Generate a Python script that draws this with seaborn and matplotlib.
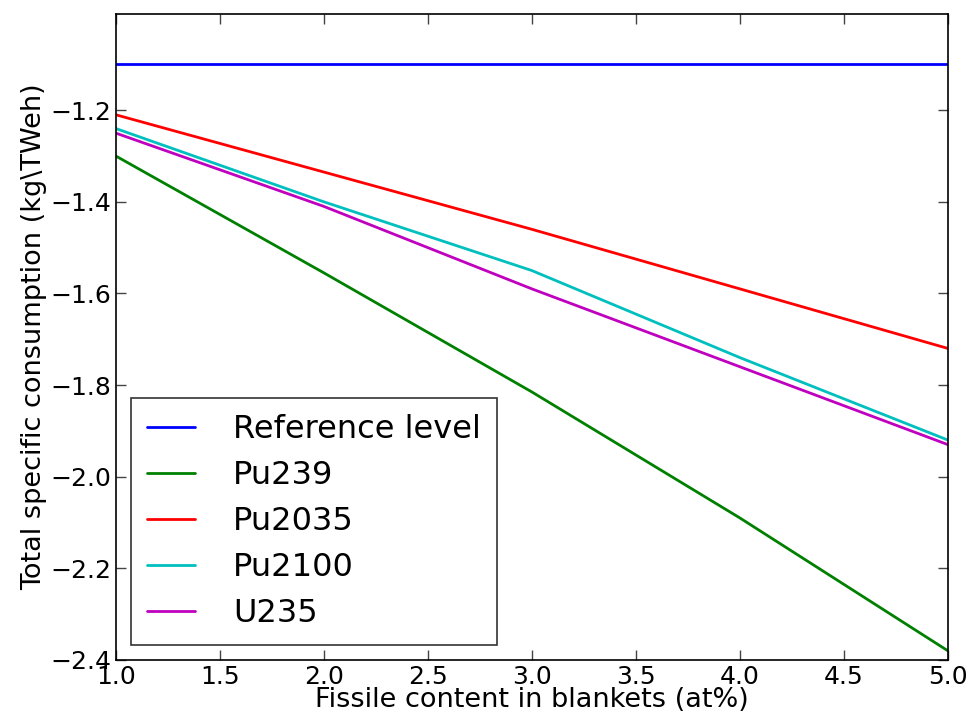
import seaborn as sns
import numpy as np
import matplotlib.pyplot as plt
import pandas as pd

# fissile content (at%) and total specific consumption per fuel
fissile = [1.0, 2.0, 3.0, 4.0, 5.0]
ref_level = [-1.10, -1.10, -1.10, -1.10, -1.10]
pu239 = [-1.30, -1.555, -1.815, -2.09, -2.38]
pu2035 = [-1.21, -1.335, -1.46, -1.59, -1.72]
pu2100 = [-1.24, -1.40, -1.55, -1.74, -1.92]
u235 = [-1.25, -1.41, -1.59, -1.76, -1.93]
names = ["Reference level", "Pu239", "Pu2035", "Pu2100", "U235"]

df = pd.concat([
    pd.DataFrame({"x": fissile, "y": vals, "fuel": name})
    for name, vals in zip(names, [ref_level, pu239, pu2035, pu2100, u235])
])

sns.set_style("white")
plt.rcParams['font.family'] = ['DejaVu Sans']
plt.rcParams['text.color'] = 'black'
plt.rcParams['axes.labelcolor'] = 'black'
plt.rcParams['xtick.color'] = 'black'
plt.rcParams['ytick.color'] = 'black'

fig = plt.figure(figsize=(9.73, 7.18), dpi=100)
ax = fig.add_axes([0.119, 0.081, 0.855, 0.8995])

colors = ["#0000ff", "#008000", "#ff0000", "#00bfbf", "#bf00bf"]
sns.lineplot(data=df, x="x", y="y", hue="fuel", palette=colors,
             linewidth=2, ax=ax)

ax.set_xlim(1.0, 5.0)
ax.set_ylim(-2.4, -0.99)
ax.set_xticks(np.arange(1.0, 5.01, 0.5))
ax.set_yticks(np.arange(-2.4, -1.19, 0.2))
ax.set_xticklabels([f"{t:.1f}" for t in np.arange(1.0, 5.01, 0.5)])
ax.set_yticklabels([f"\u2212{abs(t):.1f}" for t in np.arange(-2.4, -1.19, 0.2)])
ax.tick_params(direction="in", length=7, width=1, labelsize=18,
               top=True, right=True, bottom=True, left=True, color="#444444")
for s in ax.spines.values():
    s.set_color("black")
    s.set_linewidth(1.2)

ax.set_xlabel("Fissile content in blankets (at%)", fontsize=19.5, labelpad=-1)
ax.set_ylabel("Total specific consumption (kg\\TWeh)", fontsize=19.5, labelpad=2)

leg = ax.legend(loc="lower left", fontsize=23, frameon=True, fancybox=False,
                borderpad=0.5, handlelength=1.5, labelspacing=0.47,
                handletextpad=1.2, borderaxespad=0.47)
leg.get_frame().set_edgecolor("black")
leg.get_frame().set_linewidth(1.2)

fig.savefig("out.png", dpi=100)
